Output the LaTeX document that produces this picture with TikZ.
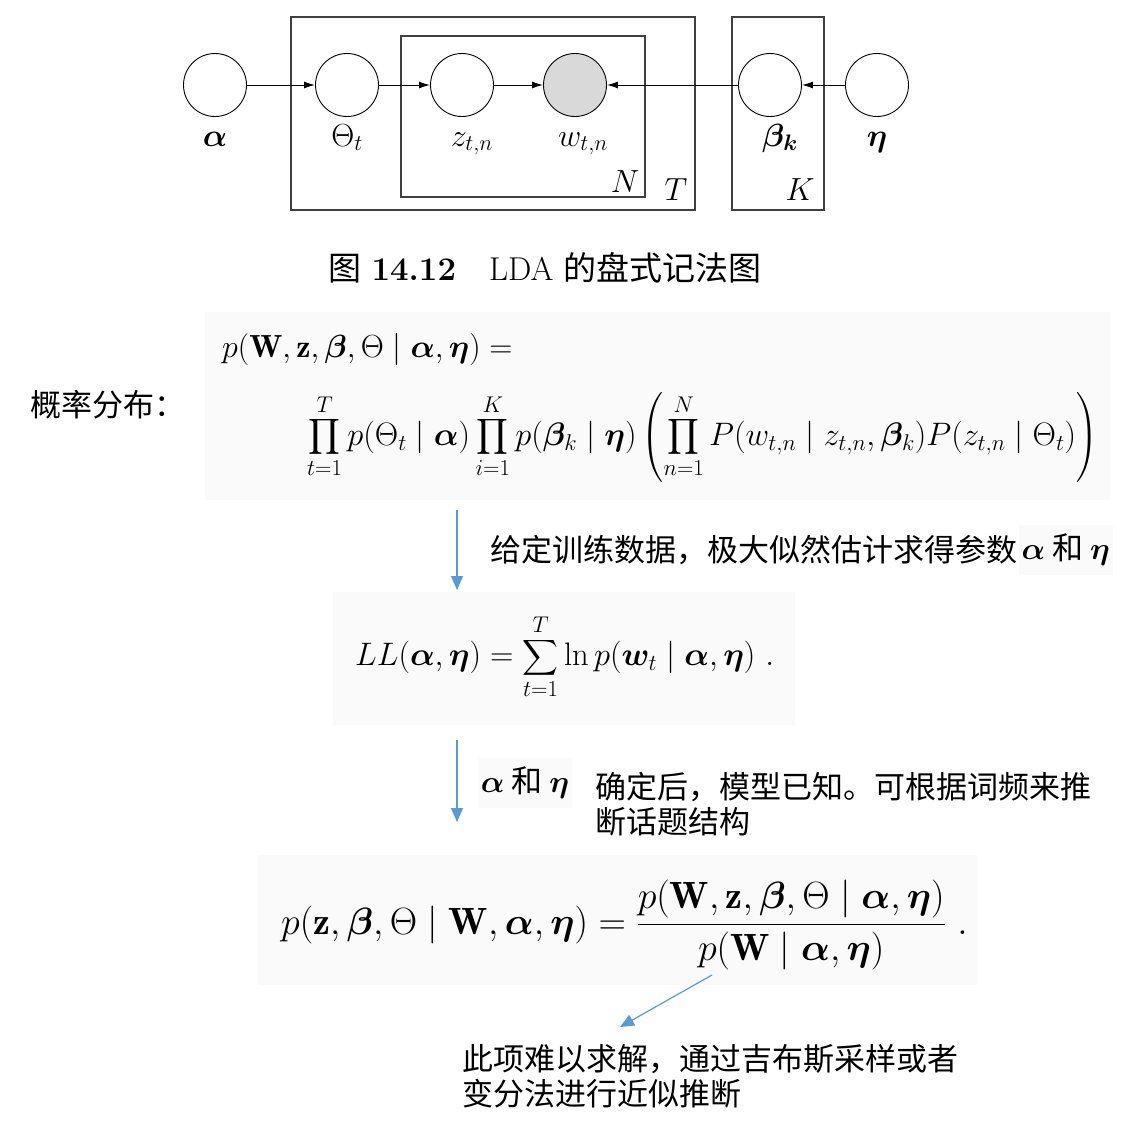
\RequirePackage{fix-cm}
\documentclass[tikz,border=0pt]{standalone}
\usepackage{amsmath}
\usepackage{exscale}
\usepackage{bm}
\usepackage{fontspec}
\newfontfamily\cjk{Noto Sans CJK SC}
\usetikzlibrary{arrows,arrows.meta,positioning,calc}
\definecolor{flowblue}{HTML}{5B9BD5}
\definecolor{boxgray}{HTML}{FAFAFA}

\begin{document}
\begin{tikzpicture}[
    x=1pt, y=-1pt, >={Latex[length=11pt,width=7pt]},
    var/.style={draw, circle, minimum size=63pt, inner sep=0pt, line width=0.9pt},
    obs/.style={var, fill=gray!30},
    plate/.style={draw=black!75, line width=1.5pt},
    lbl/.style={anchor=base, font=\fontsize{32}{38}\selectfont},
    link/.style={->, line width=1pt},
    bgbox/.style={fill=boxgray, inner sep=0pt},
    cjktxt/.style={font=\cjk\fontsize{31}{35}\selectfont, inner sep=0pt, align=left},
    parbox/.style={fill=boxgray, font=\cjk\fontsize{31}{35}\selectfont, inner sep=3pt, minimum height=50pt},
    flow/.style={-{Triangle[width=12pt,length=14pt]}, color=flowblue, line width=1.2pt}
]
    \useasboundingbox (0,0) rectangle (1132,1125);

    \draw[plate] (291,17) rectangle (695,210);
    \draw[plate] (401,36) rectangle (645,197);
    \draw[plate] (732,17) rectangle (824,210);

    \node[var] (alpha) at (215,85) {};
    \node[var] (theta) at (347,85) {};
    \node[var] (z) at (462,85) {};
    \node[obs] (w) at (575,85) {};
    \node[var] (beta) at (770,85) {};
    \node[var] (eta) at (877,85) {};

    \node[lbl] (alphalbl) at (215,146) {$\bm\alpha$};
    \node[lbl] (thetalbl) at (347,146) {$\Theta_t$};
    \node[lbl] (zlbl) at (472,146) {$z_{t,n}$};
    \node[lbl] (wlbl) at (583,146) {$w_{t,n}$};
    \node[lbl] (betalbl) at (780,146) {$\bm\beta_{\bm k}$};
    \node[lbl] (etalbl) at (877,146) {$\bm\eta$};
    \node[lbl] (nlbl) at (625,192) {$N$};
    \node[lbl] (tlbl) at (676,200) {$T$};
    \node[lbl] (klbl) at (800,200) {$K$};

    \draw[link] (alpha) -- (theta);
    \draw[link] (theta) -- (z);
    \draw[link] (z) -- (w);
    \draw[link] (beta) -- (w);
    \draw[link] (eta) -- (beta);

    \node[font=\fontsize{33}{40}\selectfont] (caption) at (545,268)
        {{\cjk 图}\ \textbf{14.12}\quad LDA {\cjk 的盘式记法图}};

    \node[cjktxt, anchor=west] (dist) at (30,405) {概率分布：};

    \node[bgbox, minimum width=905pt, minimum height=188pt] (eqbox1) at (657.5,406) {};
    \node[anchor=base west, inner sep=0pt, font=\fontsize{32}{38}\selectfont] (joint) at (222,357)
        {$p(\mathbf{W},\mathbf{z},\bm\beta,\Theta\mid\bm\alpha,\bm\eta)=$};
    \node[anchor=west, inner sep=0pt, font=\fontsize{32.5}{38}\selectfont] (factor) at (307,437)
        {$\displaystyle\prod_{t=1}^{T}p(\Theta_t\mid\bm\alpha)\prod_{i=1}^{K}p(\bm\beta_k\mid\bm\eta)
        \left(\prod_{n=1}^{N}P(w_{t,n}\mid z_{t,n},\bm\beta_k)P(z_{t,n}\mid\Theta_t)\right)$};

    \node[cjktxt, anchor=west] (given) at (490,550) {给定训练数据，极大似然估计求得参数};
    \node[parbox, right=1pt of given] (given2) {$\bm\alpha$ 和 $\bm\eta$};

    \node[bgbox, minimum width=462pt, minimum height=133pt] (eqbox2) at (564,658.5) {};
    \node[anchor=west, inner sep=0pt, font=\fontsize{32.5}{39}\selectfont] (loglik) at (355,657)
        {$\displaystyle LL(\bm\alpha,\bm\eta)=\sum_{t=1}^{T}\ln p(\bm{w}_t\mid\bm\alpha,\bm\eta)\ .$};

    \node[parbox] (known1) at (525,783) {$\bm\alpha$ 和 $\bm\eta$};
    \node[cjktxt, anchor=north west] (known2) at (595,772) {确定后，模型已知。可根据词频来推\\断话题结构};

    \node[bgbox, minimum width=720pt, minimum height=130pt] (eqbox3) at (618,920) {};
    \node[anchor=west, inner sep=0pt, font=\fontsize{38}{45}\selectfont] (post) at (281,925)
        {$\displaystyle p(\mathbf{z},\bm\beta,\Theta\mid\mathbf{W},\bm\alpha,\bm\eta)
        =\frac{p(\mathbf{W},\mathbf{z},\bm\beta,\Theta\mid\bm\alpha,\bm\eta)}{p(\mathbf{W}\mid\bm\alpha,\bm\eta)}\ .$};

    \node[cjktxt, anchor=north west] (hard) at (462,1044) {此项难以求解，通过吉布斯采样或者\\变分法进行近似推断};

    \coordinate (f1s) at (457,510);
    \coordinate (f1e) at (457,590);
    \coordinate (f2s) at (457,740);
    \coordinate (f2e) at (457,822);
    \coordinate (f3s) at (712,975);
    \coordinate (f3e) at (620,1027);
    \draw[flow] (f1s) -- (f1e);
    \draw[flow] (f2s) -- (f2e);
    \draw[flow] (f3s) -- (f3e);
\end{tikzpicture}
\end{document}
